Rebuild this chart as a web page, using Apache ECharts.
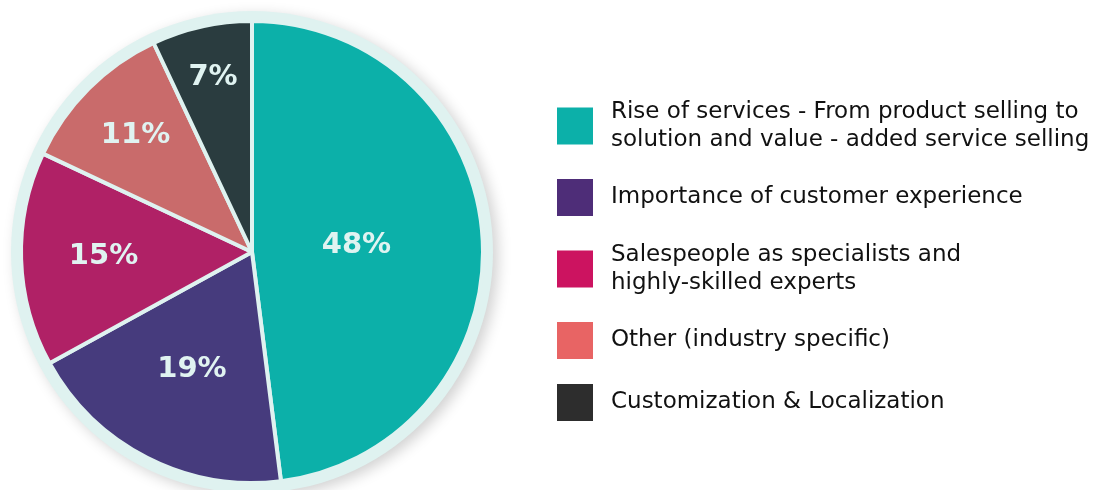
<!DOCTYPE html>
<html>
<head>
<meta charset="utf-8">
<script src="https://cdn.jsdelivr.net/npm/echarts@6/dist/echarts.min.js"></script>
<style>
  html, body { margin: 0; padding: 0; background: #ffffff; }
  #chart { width: 1094px; height: 490px; }
</style>
</head>
<body>
<div id="chart"></div>
<script>
// Drivers of change in sales, share of responses (%)
const categories = [
  'Rise of services - From product selling to\nsolution and value - added service selling',
  'Importance of customer experience',
  'Salespeople as specialists and\nhighly-skilled experts',
  'Other (industry specific)',
  'Customization & Localization'
];
const shares = [48, 19, 15, 11, 7];

// Slice fills and the (brighter) legend swatch fills
const sliceColors = ['#0cb0a9', '#463b7d', '#b02166', '#c96b6b', '#2a3c3f'];
const swatchColors = ['#0cb0a9', '#4e2d78', '#cc1360', '#e86464', '#2d2d2d'];

// How far out (fraction of the radius) each percentage label sits
const labelRadius = [0.44, 0.56, 0.63, 0.70, 0.76];

const CX = 252, CY = 252, R = 231;
const total = shares.reduce((a, b) => a + b, 0);

function midAngle(i) {
  let before = 0;
  for (let k = 0; k < i; k++) before += shares[k];
  return ((before + shares[i] / 2) / total) * 2 * Math.PI;
}

const chart = echarts.init(document.getElementById('chart'), null, { renderer: 'canvas' });

chart.setOption({
  animation: false,
  backgroundColor: '#ffffff',
  legend: {
    orient: 'vertical',
    left: 557,
    top: 98,
    padding: 0,
    icon: 'rect',
    itemWidth: 36,
    itemHeight: 37,
    itemGap: 25,
    selectedMode: false,
    itemStyle: { borderWidth: 0 },
    textStyle: {
      fontFamily: 'DejaVu Sans',
      fontSize: 23,
      color: '#111111',
      lineHeight: 28,
      padding: [0, 0, 0, 13]
    },
    data: categories.map((name, i) => {
      const item = { name, itemStyle: { color: swatchColors[i], borderWidth: 0 } };
      // two-line entries hang slightly below their swatch
      if (name.indexOf('\n') >= 0) item.textStyle = { padding: [5, 0, -5, 13] };
      return item;
    })
  },
  series: [
    {
      // pale rim behind the pie, with a soft drop shadow
      type: 'pie',
      silent: true,
      center: [CX, CY],
      radius: [0, R + 10],
      label: { show: false },
      labelLine: { show: false },
      itemStyle: {
        color: '#dff2f0',
        shadowBlur: 14,
        shadowColor: 'rgba(0,0,0,0.18)',
        shadowOffsetX: 5,
        shadowOffsetY: 4
      },
      data: [{ value: 1, name: '' }],
      legendHoverLink: false
    },
    {
      type: 'pie',
      center: [CX, CY],
      radius: [0, R],
      startAngle: 90,
      clockwise: true,
      silent: true,
      itemStyle: { borderColor: '#dff2f0', borderWidth: 4 },
      label: {
        show: true,
        position: 'inside',
        formatter: p => p.value + '%',
        fontFamily: 'DejaVu Sans',
        fontWeight: 'bold',
        fontSize: 29,
        color: '#e0f3f1'
      },
      labelLine: { show: false },
      labelLayout: function (p) {
        const a = midAngle(p.dataIndex);
        const shift = (labelRadius[p.dataIndex] - 0.5) * R;
        return { dx: shift * Math.sin(a), dy: -shift * Math.cos(a) };
      },
      data: categories.map((name, i) => ({
        name,
        value: shares[i],
        itemStyle: { color: sliceColors[i] }
      }))
    }
  ]
});
</script>
</body>
</html>
